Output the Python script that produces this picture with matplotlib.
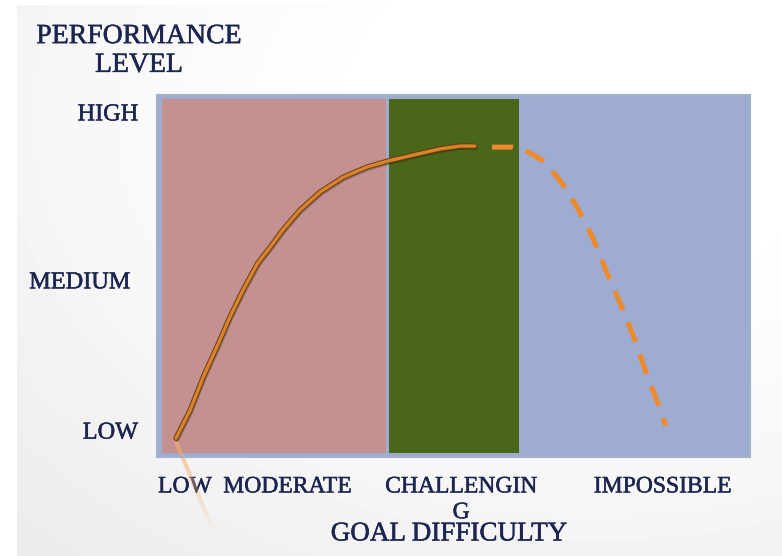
import matplotlib.pyplot as plt
import matplotlib.patheffects as pe
from matplotlib.patches import Rectangle
from matplotlib.collections import LineCollection
import numpy as np

# goal difficulty zones (x from, x to) and their fills
zone_names = ["moderate", "challenging", "impossible"]
zone_start = [0.08, 3.91, 6.10]
zone_end = [3.86, 6.10, 9.98]
zone_colors = ["#c49191", "#4a6619", "#9eacd1"]

# performance curve, solid part (achievable) and dashed part (falls off)
goal_solid = [0.32, 0.56, 0.78, 1.01, 1.23, 1.45, 1.70, 1.91, 2.12, 2.41,
              2.75, 3.14, 3.54, 3.90, 4.32, 4.77, 5.11, 5.36]
perf_solid = [0.52, 1.30, 2.21, 3.04, 3.87, 4.61, 5.36, 5.80, 6.27, 6.82,
              7.32, 7.73, 8.01, 8.18, 8.34, 8.51, 8.59, 8.59]
goal_dashed = [5.65, 6.00, 6.26, 6.54, 6.75, 6.91, 7.08, 7.35, 7.59, 7.84, 8.06, 8.26, 8.48, 8.58]
perf_dashed = [8.56, 8.56, 8.43, 8.15, 7.73, 7.38, 6.91, 6.05, 5.08, 4.14, 3.23, 2.27, 1.35, 0.86]

# axis labels
x_ticks = [1.65, 5.13, 8.53]
x_labels = ["LOW  MODERATE", "CHALLENGIN\nG", "IMPOSSIBLE"]
y_ticks = [0.66, 4.81, 9.45]
y_labels = ["LOW", "MEDIUM", "HIGH"]

txt = "#1c2550"
serif = "Liberation Serif"
bold_txt = [pe.withStroke(linewidth=0.35, foreground=txt)]

fig = plt.figure(figsize=(7.82, 5.56), dpi=100)
fig.patch.set_facecolor("white")

# soft grey slide background
bg = fig.add_axes([17 / 782, 0, 1 - 17 / 782, 1 - 5 / 556])
h, w = 551, 765
yy, xx = np.mgrid[0:h, 0:w]
r = np.hypot((xx - 0.75 * w) / w, (yy - 0.2 * h) / h)
shade = 1 - 0.075 * np.clip((r - 0.25) / 0.8, 0, 1) ** 1.3
bg.imshow(shade, cmap="gray", vmin=0, vmax=1, aspect="auto", interpolation="bilinear")
bg.axis("off")

ax = fig.add_axes([157 / 782, 99 / 556, 593 / 782, 362 / 556])
ax.set_xlim(0, 10)
ax.set_ylim(0, 10)
ax.set_facecolor("#9eacd1")
for s in ax.spines.values():
    s.set_color("#a2b2cb")
    s.set_linewidth(1.5)

for name, x0, x1, c in zip(zone_names, zone_start, zone_end, zone_colors):
    if name == "impossible":
        continue
    ax.add_patch(Rectangle((x0, 0.11), x1 - x0, 9.78, facecolor=c, edgecolor="none"))

# faint reflection under the start of the curve
p0 = np.array([goal_solid[0], perf_solid[0] - 0.1])
p1 = np.array([0.98, -2.15])
t = np.linspace(0, 1, 40)
pts = p0 + (p1 - p0) * t[:, None]
segs = np.stack([pts[:-1], pts[1:]], axis=1)
cols = np.zeros((len(segs), 4))
cols[:, :3] = [0.95, 0.68, 0.42]
cols[:, 3] = np.linspace(0.7, 0.0, len(segs))
ax.add_collection(LineCollection(segs, colors=cols, linewidths=3, clip_on=False))

ax.plot(goal_solid, perf_solid, color="#d9832a", lw=2.4, solid_capstyle="round",
        solid_joinstyle="round",
        path_effects=[pe.SimpleLineShadow(offset=(1, -1.5), alpha=0.25),
                      pe.Stroke(linewidth=3.8, foreground="#6a3a12"),
                      pe.Normal()])

dash_line, = ax.plot(goal_dashed, perf_dashed, color="#ee8a2c", lw=3.6,
                     dash_capstyle="butt", solid_joinstyle="round")
dash_line.set_dashes((4.2, 2.6))

ax.set_xticks(x_ticks, x_labels)
ax.set_yticks([])
ax.tick_params(axis="x", length=0, pad=14)
for lbl in ax.get_xticklabels():
    lbl.set_fontfamily(serif)
    lbl.set_fontsize(17)
    lbl.set_color(txt)
    lbl.set_linespacing(1.3)
    lbl.set_path_effects(bold_txt)

ytrans = ax.get_yaxis_transform()
y_right = [-0.032, -0.045, -0.032]
for yv, lab, xr in zip(y_ticks, y_labels, y_right):
    ax.text(xr, yv, lab, transform=ytrans, ha="right", va="center",
            fontsize=17.5, family=serif, color=txt, path_effects=bold_txt)

fig.text(139 / 782, 1 - 51 / 556, "PERFORMANCE\nLEVEL", ha="center", va="center",
         fontsize=20, family=serif, color=txt, linespacing=1.2, path_effects=bold_txt)
fig.text(449 / 782, 1 - 534 / 556, "GOAL DIFFICULTY", ha="center", va="center",
         fontsize=19.5, family=serif, color=txt, path_effects=bold_txt)

fig.savefig("out.png", dpi=100)
